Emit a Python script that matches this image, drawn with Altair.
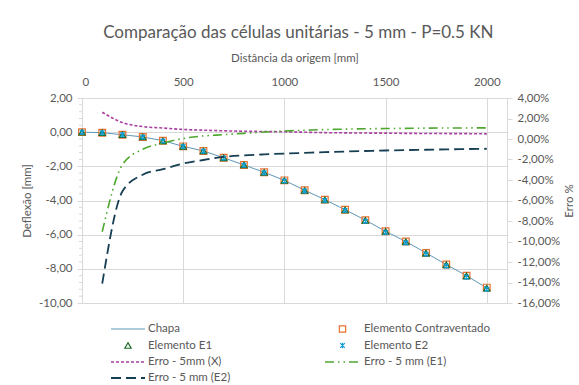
import altair as alt
import pandas as pd

# ---------------- data ----------------
x_mm = [0, 100, 200, 300, 400, 500, 600, 700, 800, 900, 1000,
        1100, 1200, 1300, 1400, 1500, 1600, 1700, 1800, 1900, 2000]
chapa = [0.0, -0.03, -0.15, -0.28, -0.50, -0.83, -1.10, -1.50, -1.92, -2.35, -2.82,
         -3.40, -3.95, -4.54, -5.15, -5.80, -6.40, -7.07, -7.75, -8.40, -9.12]
contraventado = [0.0, -0.03, -0.15, -0.28, -0.50, -0.83, -1.10, -1.50, -1.92, -2.35, -2.82,
                 -3.40, -3.95, -4.54, -5.15, -5.80, -6.40, -7.07, -7.75, -8.40, -9.10]
elem_e1 = [0.0, -0.03, -0.15, -0.28, -0.51, -0.83, -1.10, -1.50, -1.92, -2.36, -2.83,
           -3.41, -3.96, -4.55, -5.16, -5.81, -6.41, -7.08, -7.76, -8.41, -9.13]
elem_e2 = [0.0, -0.03, -0.15, -0.29, -0.52, -0.84, -1.12, -1.52, -1.94, -2.38, -2.86,
           -3.44, -4.00, -4.59, -5.21, -5.87, -6.48, -7.15, -7.84, -8.49, -9.20]

x_err = [100, 200, 300, 400, 500, 600, 700, 800, 900, 1000,
         1100, 1200, 1300, 1400, 1500, 1600, 1700, 1800, 1900, 2000]
erro_x = [2.61, 1.60, 1.21, 1.07, 0.93, 0.86, 0.80, 0.76, 0.73, 0.70,
          0.66, 0.62, 0.60, 0.58, 0.57, 0.55, 0.54, 0.53, 0.52, 0.50]
erro_e1 = [-9.05, -2.50, -1.00, -0.40, 0.05, 0.30, 0.42, 0.55, 0.68, 0.78,
           0.85, 0.92, 0.96, 1.00, 1.02, 1.04, 1.06, 1.07, 1.08, 1.09]
erro_e2 = [-14.10, -5.10, -3.48, -2.95, -2.40, -2.05, -1.75, -1.60, -1.50, -1.42,
           -1.35, -1.28, -1.22, -1.17, -1.12, -1.08, -1.05, -1.01, -0.98, -0.95]

left_ticks = [-10, -8, -6, -4, -2, 0, 2]
left_minor = [-9.6, -9.2, -8.8, -8.4, -7.6, -7.2, -6.8, -6.4, -5.6, -5.2, -4.8, -4.4,
              -3.6, -3.2, -2.8, -2.4, -1.6, -1.2, -0.8, -0.4, 0.4, 0.8, 1.2, 1.6]
right_ticks = [-0.16, -0.14, -0.12, -0.10, -0.08, -0.06, -0.04, -0.02, 0.0, 0.02, 0.04]
x_ticks = [0, 500, 1000, 1500, 2000]

legend_names = ["Chapa", "Elemento Contraventado", "Elemento E1", "Elemento E2",
                "Erro - 5mm (X)", "Erro - 5 mm (E1)", "Erro - 5 mm (E2)"]

# ---------------- styles ----------------
W, H = 425, 205
FONT = "Lato"
FS = 11.5
TXT = "#595959"
GRID = "#d9d9d9"
C_CHAPA = "#5f97b8"
C_CONTRA = "#e97132"
C_E1 = "#196b24"
C_E2 = "#0f9ed5"
C_ERX = "#a83ea0"
C_ERE1 = "#4ea72e"
C_ERE2 = "#173f54"
ASTER = "M0,-1L0,1M-0.85,-0.85L0.85,0.85M-0.85,0.85L0.85,-0.85"

df = pd.DataFrame({"x": x_mm, "chapa": chapa, "contra": contraventado,
                   "e1": elem_e1, "e2": elem_e2})
dfe = pd.DataFrame({"x": x_err,
                    "ex": [v / 100 for v in erro_x],
                    "ee1": [v / 100 for v in erro_e1],
                    "ee2": [v / 100 for v in erro_e2]})
dfm = pd.DataFrame({"v": left_minor})

xs = alt.Scale(domain=[0, 2100], nice=False, zero=False)
xax = alt.Axis(orient="top", values=x_ticks, format="d", title="Distância da origem [mm]",
               grid=True, gridColor=GRID, domain=False, ticks=False,
               labelPadding=11, titlePadding=13)
ys = alt.Scale(domain=[-10, 2], nice=False)
yax = alt.Axis(values=left_ticks, format=".2f", title="Deflexão [mm]", grid=True,
               gridColor=GRID, domainColor=GRID, tickColor=GRID, tickSize=5,
               labelPadding=5, titlePadding=6)
yrs = alt.Scale(domain=[-0.16, 0.04], nice=False)
yrax = alt.Axis(orient="right", values=right_ticks, format=".2%", title="Erro %",
                grid=False, domainColor=GRID, tickColor=GRID, tickSize=5,
                labelPadding=5, titlePadding=4, titleAngle=270, titleBaseline="top")

base = alt.Chart(df)
X = alt.X("x:Q", scale=xs, axis=xax)

l_chapa = base.mark_line(color=C_CHAPA, strokeWidth=1).encode(
    x=X, y=alt.Y("chapa:Q", scale=ys, axis=yax))
l_minor = alt.Chart(dfm).mark_rule(color=GRID, strokeWidth=1).encode(
    y=alt.Y("v:Q", scale=ys, axis=yax), x=alt.value(-3), x2=alt.value(0))
p_contra = base.mark_point(shape="square", size=45, filled=False, color=C_CONTRA,
                           strokeWidth=1.2, opacity=1).encode(
    x=X, y=alt.Y("contra:Q", scale=ys, axis=yax))
p_e1 = base.mark_point(shape="triangle-up", size=40, filled=False, color=C_E1,
                       strokeWidth=1.2, opacity=1).encode(
    x=X, y=alt.Y("e1:Q", scale=ys, axis=yax))
p_e2 = base.mark_point(shape=ASTER, size=30, filled=False, color=C_E2,
                       strokeWidth=1.3, opacity=1).encode(
    x=X, y=alt.Y("e2:Q", scale=ys, axis=yax))

left = alt.layer(l_minor, l_chapa, p_contra, p_e1, p_e2)

be = alt.Chart(dfe)
e_x = be.mark_line(color=C_ERX, strokeWidth=1.6, strokeDash=[3, 2], interpolate="monotone").encode(
    x=X, y=alt.Y("ex:Q", scale=yrs, axis=yrax))
e_e1 = be.mark_line(color=C_ERE1, strokeWidth=1.6, strokeDash=[9, 4, 1.5, 4, 1.5, 4],
                    interpolate="monotone").encode(
    x=X, y=alt.Y("ee1:Q", scale=yrs, axis=yrax))
e_e2 = be.mark_line(color=C_ERE2, strokeWidth=1.8, strokeDash=[10, 5],
                    interpolate="monotone").encode(
    x=X, y=alt.Y("ee2:Q", scale=yrs, axis=yrax))
right = alt.layer(e_x, e_e1, e_e2)

main = alt.layer(left, right).resolve_scale(y="independent").properties(width=W, height=H)

# ---------------- legend panel ----------------
LH = 64
col_sym0 = [29, 243]   # symbol start per column
col_sym1 = [63, 278]   # symbol end per column
col_txt = [66, 282]    # label start per column
row_y = [8, 24.5, 41, 57]
lx = alt.Scale(domain=[0, W], range=[0, W])
ly = alt.Scale(domain=[0, LH], range=[0, LH])

styles = {
    "Chapa": ("line", C_CHAPA, [1, 0], 1.2),
    "Elemento Contraventado": ("square", C_CONTRA),
    "Elemento E1": ("triangle-up", C_E1),
    "Elemento E2": (ASTER, C_E2),
    "Erro - 5mm (X)": ("line", C_ERX, [3, 2], 1.6),
    "Erro - 5 mm (E1)": ("line", C_ERE1, [9, 4, 1.5, 4, 1.5, 4], 1.6),
    "Erro - 5 mm (E2)": ("line", C_ERE2, [10, 5], 1.8),
}

leg_layers = []
for i, name in enumerate(legend_names):
    c, r = i % 2, i // 2
    d = pd.DataFrame({"name": [name], "xs": [col_sym0[c]], "xe": [col_sym1[c]],
                      "xm": [(col_sym0[c] + col_sym1[c]) / 2], "xt": [col_txt[c]],
                      "y": [row_y[r]]})
    ch = alt.Chart(d)
    st = styles[name]
    if st[0] == "line":
        sym = ch.mark_rule(color=st[1], strokeDash=st[2], strokeWidth=st[3]).encode(
            x=alt.X("xs:Q", scale=lx, axis=None), x2="xe:Q",
            y=alt.Y("y:Q", scale=ly, axis=None))
    else:
        sz = 40 if st[0] != ASTER else 30
        sym = ch.mark_point(shape=st[0], color=st[1], filled=False, size=sz,
                            strokeWidth=1.2, opacity=1).encode(
            x=alt.X("xm:Q", scale=lx, axis=None),
            y=alt.Y("y:Q", scale=ly, axis=None))
    txt = ch.mark_text(align="left", baseline="middle", fontSize=FS, color=TXT,
                       font=FONT).encode(
        x=alt.X("xt:Q", scale=lx, axis=None),
        y=alt.Y("y:Q", scale=ly, axis=None), text="name:N")
    leg_layers += [sym, txt]

legend = alt.layer(*leg_layers).properties(width=W, height=LH)

chart = alt.vconcat(main, legend, spacing=12).properties(
    title=alt.Title("Comparação das células unitárias - 5 mm - P=0.5 KN",
                    fontSize=17, color=TXT, font=FONT, fontWeight="normal",
                    anchor="middle", offset=10),
    padding={"left": 21, "top": 24, "right": 0, "bottom": 0},
).configure(
    font=FONT,
    locale={"number": {"decimal": ",", "thousands": ".", "grouping": [3],
                       "currency": ["", ""], "minus": "-"}},
).configure_view(stroke=None).configure_axis(
    labelFont=FONT, titleFont=FONT, labelFontSize=FS, titleFontSize=FS,
    labelColor=TXT, titleColor=TXT, titleFontWeight="normal",
).configure_concat(spacing=12)

chart.save("out.html", embed_options={"renderer": "svg", "actions": False})
